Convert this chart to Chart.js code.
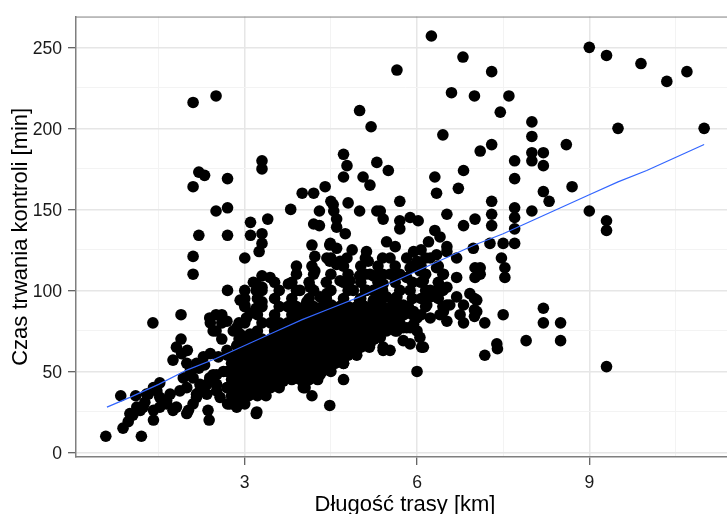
<!DOCTYPE html>
<html>
<head>
<meta charset="utf-8">
<script src="https://cdn.jsdelivr.net/npm/chart.js@4.4.1/dist/chart.umd.min.js"></script>
<style>
  html, body { margin: 0; padding: 0; background: #fff; overflow: hidden; }
  #wrap { width: 727px; height: 514px; overflow: hidden; }
</style>
</head>
<body>
<div id="wrap"><canvas id="wykres" width="740" height="514"></canvas></div>
<script>
// tick positions
const xTicks = [3, 6, 9];
const xMinor = [1.5, 4.5, 7.5, 10.5];
const yTicks = [0, 50, 100, 150, 200, 250];
const yMinor = [25, 75, 125, 175, 225];

// smoothed trend (loess)
const smoothKm  = [0.6, 1, 1.5, 2, 2.5, 3, 3.5, 4, 4.5, 5, 5.5, 6, 6.5, 7, 7.5, 8, 8.5, 9, 9.5, 10, 10.5, 11];
const smoothMin = [28, 34, 42, 51, 58, 66, 74, 82, 89, 96, 104, 112, 120, 128, 135, 143, 151, 159, 167, 174, 182, 190];

// route length [km], inspection time [min]
const kontrole = [
  // short routes
  [0.58,10],[1.2,10],[0.84,35],[1.1,35],[0.88,15],[0.97,19],[1.05,23],[1.18,26],[1.41,20],[1.52,43],
  [1.47,38],[1.32,36],[1.26,31],[1.12,28],[1.0,24],[1.23,28],[1.29,36],[1.41,40],[1.52,34],[1.64,30],
  [1.75,26],[1.41,26],[1.52,28],[1.64,32],[1.81,28],[1.99,24],[1.7,36],[1.87,38],[1.99,40],[1.93,46],
  [2.05,50],[2.16,55],[2.28,59],[2.02,26],[2.16,36],[2.22,42],[2.1,46],[2.36,26],[2.38,20],[1.4,80],
  [1.89,85],[1.89,70],[1.81,65],[1.75,57],[1.9,61],[1.99,55],[2.0,63],[2.2,52],[2.4,61],[2.3,54],
  [2.45,48],[2.51,42],[2.34,36],[2.1,30],[2.16,34],[2.22,38],[2.34,42],[2.39,46],[2.51,48],[2.63,50],
  [2.69,40],[2.51,38],[2.57,34],[2.8,30],[2.86,36],[2.8,42],[2.97,44],[3.03,50],[2.92,55],[3.09,57],
  [3.2,59],[3.2,50],[3.2,46],[3.2,42],[3.32,46],[3.38,55],[3.38,63],[3.27,69],[3.2,24],[2.86,28],
  [2.54,59],[2.69,63],[2.86,66],[2.97,69],[3.09,73],[2.5,85],[2.6,85],[2.4,80],[2.6,80],[2.5,75],
  [2.6,70],[2.9,80],[2.8,75],[2.9,70],[3.0,95],[3.0,91],[3.1,86],[3.2,89],[3.3,93],[3.2,100],
  [3.3,102],[2.39,83],[2.69,81],[2.45,75],[2.92,94],[2.86,77],[2.92,73],[3.03,83],[3.06,65],[3.03,59],
  [2.97,53],[2.8,48],[2.1,121],[2.1,110],[2.7,100],[3.0,120],[3.3,109],[3.2,104],[2.1,216],[2.5,220],
  [2.2,173],[2.3,171],[2.1,164],[2.7,169],[2.5,149],[2.7,151],[2.2,134],[2.7,134],[3.1,142],[3.1,134],
  [3.3,135],[3.3,129],[3.25,124],[3.4,144],[3.3,180],[3.3,175],
  // middle routes
  [3.8,150],[4.0,160],[4.2,160],[4.4,164],[4.3,149],[4.5,155],[4.55,149],[4.6,144],[4.8,154],[5.0,149],
  [5.3,149],[4.2,141],[4.3,140],[4.75,135],[3.9,115],[4.17,128],[4.22,121],[4.17,115],[4.22,112],[4.43,120],
  [4.49,129],[4.6,126],[4.78,120],[4.6,116],[5.12,124],[5.15,118],[5.0,109],[5.24,109],[4.66,106],[4.83,106],
  [4.89,100],[3.15,105],[3.44,108],[3.76,104],[3.96,100],[4.14,102],[4.08,93],[4.31,96],[4.43,98],[4.51,91],
  [4.72,184],[4.78,177],[4.72,170],[5.3,179],[5.5,174],[5.06,170],[5.18,165],[5.36,149],[5.41,144],[5.7,155],
  [5.7,143],[5.88,145],[6.02,143],[5.7,138],[6.31,170],[6.34,160],[6.72,163],[6.81,174],[7.1,186],[6.52,147],
  [6.81,140],[7.01,144],[7.3,155],[7.3,147],[7.3,140],[7.27,129],[7.5,129],[4.54,153],[4.6,139],[6.31,137],
  [6.4,133],[6.2,130],[6.52,127],[5.47,130],[5.62,127],[5.53,120],[5.94,124],[6.0,118],[5.88,114],[5.82,120],
  [6.34,122],[6.52,124],[6.69,120],[6.98,126],[7.01,114],[7.01,108],[7.47,120],[7.53,114],[7.53,108],[4.48,118],
  [4.66,118],[4.48,128],[5.18,110],[5.36,110],[5.53,110],[5.7,110],[6.05,112],[6.11,106],[6.23,100],[6.34,96],
  [6.52,91],[6.69,96],[6.81,91],[6.75,85],[6.52,81],[6.4,85],[6.23,83],[6.17,91],[6.81,80],[7.18,80],
  [7.5,85],[6.11,65],[7.39,67],[5.82,108],[5.88,100],[5.76,91],[5.65,85],[5.53,79],[5.41,87],[5.24,94],
  [5.12,100],[5.0,94],[4.83,89],[4.72,83],[4.6,79],[4.48,89],[5.94,87],[6.0,75],[6.05,71],[5.94,79],
  [4.54,73],[4.83,71],[5.12,71],[5.36,71],[5.65,75],[5.82,77],[5.24,100],[5.47,96],[5.65,96],[3.21,25],
  [4.48,29],[4.72,55],[4.72,45],[4.17,35],[4.02,40],[3.9,46],[2.74,30],[2.86,32],[2.97,34],[3.09,38],
  [3.32,40],[3.5,44],[3.67,48],[3.85,53],[4.31,48],[4.48,53],[4.6,61],[4.95,63],[5.18,67],[5.41,65],
  [5.76,77],[6.0,50],[6.08,65],[7.18,60],[6.46,87],[6.57,91],[6.92,98],[7.04,94],[7.04,87],[6.23,120],
  [6.34,114],[6.46,110],[6.69,108],[5.41,104],[5.59,91],[5.41,63],[5.53,63],[5.88,77],[6.0,83],[6.23,96],
  [6.34,100],[6.52,102],[5.76,69],[5.88,67],[3.79,48],[2.86,38],[3.67,44],
  // long routes
  [5.65,236],[6.25,257],[6.8,244],[7.3,235],[6.6,222],[7.0,220],[7.6,220],[5.0,211],[5.2,201],[6.45,196],
  [7.45,210],[8.0,204],[8.0,195],[7.3,190],[8.0,185],[8.2,185],[8.0,180],[8.2,177],[7.7,180],[7.7,169],
  [8.6,190],[8.2,161],[8.3,155],[8.7,164],[7.7,151],[7.7,145],[7.7,138],[7.7,129],[8.0,149],[9.0,149],
  [9.3,143],[9.3,137],[9.5,200],[11.0,200],[9.0,250],[9.3,245],[9.9,240],[10.35,229],[10.7,235],[7.1,114],
  [7.1,110],[7.0,95],[7.0,88],[7.0,84],[8.2,89],[8.2,80],[8.5,80],[8.5,69],[7.9,69],[7.4,64],
  [9.3,53],
  // the crowded core, 3-6 km
  [2.7,30],[2.77,35],[2.7,40],[2.77,45],[2.7,50],[2.77,55],[2.7,60],
  [2.85,30],[2.92,35],[2.85,40],[2.92,45],[2.85,50],[2.92,55],[2.85,60],[2.92,65],
  [3.0,30],[3.07,35],[3.0,40],[3.07,45],[3.0,50],[3.07,55],[3.0,60],[3.07,65],[3.0,70],[3.0,80],[3.0,90],[3.0,100],
  [3.22,35],[3.15,40],[3.22,45],[3.15,50],[3.22,55],[3.15,60],[3.22,65],[3.15,70],[3.22,75],[3.22,85],[3.22,95],
  [3.37,35],[3.3,40],[3.37,45],[3.3,50],[3.37,55],[3.3,60],[3.37,65],[3.3,70],[3.3,80],[3.3,90],[3.3,100],
  [3.45,40],[3.52,45],[3.45,50],[3.52,55],[3.45,60],[3.52,65],[3.45,70],[3.52,75],[3.45,80],[3.52,85],[3.52,95],[3.52,105],
  [3.6,40],[3.67,45],[3.6,50],[3.67,55],[3.6,60],[3.67,65],[3.6,70],[3.67,75],[3.6,80],[3.6,90],[3.6,100],
  [3.82,45],[3.75,50],[3.82,55],[3.75,60],[3.82,65],[3.75,70],[3.82,75],[3.75,80],[3.82,85],[3.75,90],[3.82,95],[3.82,105],
  [3.97,45],[3.9,50],[3.97,55],[3.9,60],[3.97,65],[3.9,70],[3.97,75],[3.9,80],[3.97,85],[3.9,90],[3.9,100],[3.9,110],
  [4.05,40],[4.12,45],[4.05,50],[4.12,55],[4.05,60],[4.12,65],[4.05,70],[4.12,75],[4.05,80],[4.12,85],[4.05,90],[4.12,95],[4.12,105],
  [4.27,45],[4.2,50],[4.27,55],[4.2,60],[4.27,65],[4.2,70],[4.27,75],[4.2,80],[4.27,85],[4.2,90],[4.2,100],[4.2,110],
  [4.35,50],[4.42,55],[4.35,60],[4.42,65],[4.35,70],[4.42,75],[4.35,80],[4.42,85],[4.35,90],[4.42,95],[4.42,105],
  [4.5,50],[4.57,55],[4.5,60],[4.57,65],[4.5,70],[4.57,75],[4.5,80],[4.57,85],[4.5,90],[4.5,100],[4.5,110],[4.5,120],
  [4.72,55],[4.65,60],[4.72,65],[4.65,70],[4.72,75],[4.65,80],[4.72,85],[4.65,90],[4.72,95],[4.72,105],[4.72,115],
  [4.8,60],[4.87,65],[4.8,70],[4.87,75],[4.8,80],[4.87,85],[4.8,90],[4.8,100],[4.8,110],[4.87,125],
  [4.95,60],[5.02,65],[4.95,70],[5.02,75],[4.95,80],[5.02,85],[4.95,90],[5.02,95],[5.02,105],[5.02,115],
  [5.17,65],[5.1,70],[5.17,75],[5.1,80],[5.17,85],[5.1,90],[5.1,100],[5.1,110],[5.1,120],
  [5.25,70],[5.32,75],[5.25,80],[5.32,85],[5.25,90],[5.32,95],[5.32,105],[5.32,115],
  [5.47,75],[5.4,80],[5.47,85],[5.4,90],[5.4,100],[5.4,110],[5.4,120],
  [5.62,75],[5.55,80],[5.62,85],[5.55,90],[5.62,95],[5.62,105],[5.62,115],
  [5.7,80],[5.77,85],[5.7,90],[5.7,100],
  [5.92,85],[5.85,90],[5.92,95],[5.92,105],[5.92,115],
  [6.07,85],[6.07,95],[6.07,105],[6.07,115],[6.07,125],
  [6.15,90],[6.15,100],[6.15,110],[6.15,120],
  [6.37,95],[6.37,105],[6.37,115],
  [6.45,90],[6.45,100],[6.45,110]
];

const czcionka = 'Liberation Sans, Arial, Helvetica, sans-serif';
const isMajor = (list, v) => list.includes(v);

// top edge of the panel
const ramka = {
  id: 'ramka',
  afterDraw(chart) {
    const { ctx, chartArea: a } = chart;
    ctx.save();
    ctx.strokeStyle = '#7f7f7f';
    ctx.lineWidth = 1;
    ctx.beginPath();
    ctx.moveTo(a.left, a.top + 0.5);
    ctx.lineTo(a.right, a.top + 0.5);
    ctx.stroke();
    ctx.restore();
  }
};

new Chart(document.getElementById('wykres'), {
  type: 'scatter',
  data: {
    datasets: [
      {
        label: 'loess',
        data: smoothKm.map((x, i) => ({ x, y: smoothMin[i] })),
        showLine: true,
        borderColor: '#3366FF',
        borderWidth: 1.2,
        pointRadius: 0,
        fill: false,
        tension: 0,
        order: 0
      },
      {
        label: 'kontrole',
        data: kontrole.map(([x, y]) => ({ x, y })),
        backgroundColor: '#000',
        borderWidth: 0,
        pointRadius: 5.8,
        order: 1
      }
    ]
  },
  options: {
    responsive: false,
    animation: false,
    events: [],
    devicePixelRatio: 1,
    // the panel runs on a little past the right edge of the window
    layout: { padding: { top: 14, right: 6, left: 0, bottom: 0 } },
    plugins: { legend: { display: false }, tooltip: { enabled: false } },
    scales: {
      x: {
        type: 'linear',
        min: 0.061,
        max: 11.52,
        afterBuildTicks: s => { s.ticks = [...xMinor, ...xTicks].sort((a, b) => a - b).map(v => ({ value: v })); },
        afterFit: s => { s.height = 57; },
        ticks: {
          autoSkip: false,
          maxRotation: 0,
          padding: 8,
          color: '#1a1a1a',
          font: { family: czcionka, size: 17.6 },
          callback: v => isMajor(xTicks, v) ? String(v) : ''
        },
        grid: {
          color: c => isMajor(xTicks, c.tick && c.tick.value) ? '#e6e6e6' : '#f3f3f3',
          lineWidth: c => isMajor(xTicks, c.tick && c.tick.value) ? 1.5 : 1,
          tickLength: 8,
          tickColor: c => isMajor(xTicks, c.tick && c.tick.value) ? '#333' : 'rgba(0,0,0,0)',
          tickWidth: 1
        },
        border: { color: '#7f7f7f', width: 1.5 },
        title: {
          display: true,
          text: 'Długość trasy [km]',
          color: '#000',
          font: { family: czcionka, size: 22, lineHeight: 1 },
          padding: { top: 0, bottom: -2 }
        }
      },
      y: {
        type: 'linear',
        min: -2.8,
        max: 269,
        afterBuildTicks: s => { s.ticks = [...yTicks, ...yMinor].sort((a, b) => a - b).map(v => ({ value: v })); },
        afterFit: s => { s.width = 76; },
        ticks: {
          autoSkip: false,
          padding: 6,
          labelOffset: 1.5,
          color: '#1a1a1a',
          font: { family: czcionka, size: 17.6 },
          callback: v => isMajor(yTicks, v) ? String(v) : ''
        },
        grid: {
          color: c => isMajor(yTicks, c.tick && c.tick.value) ? '#e6e6e6' : '#f3f3f3',
          lineWidth: c => isMajor(yTicks, c.tick && c.tick.value) ? 1.5 : 1,
          tickLength: 8,
          tickColor: c => isMajor(yTicks, c.tick && c.tick.value) ? '#333' : 'rgba(0,0,0,0)',
          tickWidth: 1
        },
        border: { color: '#7f7f7f', width: 1.5 },
        title: {
          display: true,
          text: 'Czas trwania kontroli [min]',
          color: '#000',
          font: { family: czcionka, size: 22, lineHeight: 1 },
          padding: { top: 10, bottom: 0 }
        }
      }
    }
  },
  plugins: [ramka]
});
</script>
</body>
</html>
